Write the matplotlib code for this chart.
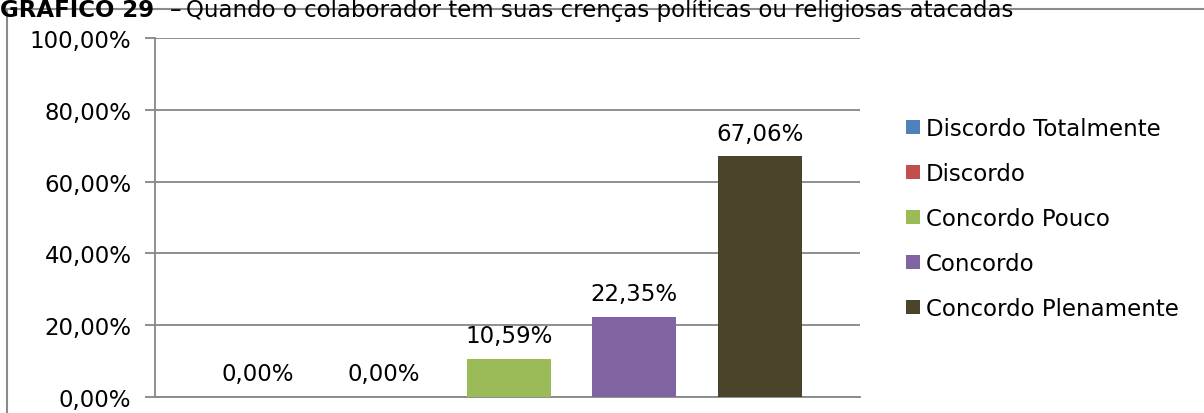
import matplotlib
matplotlib.use("Agg")
import matplotlib.pyplot as plt
from matplotlib.patches import Patch
from matplotlib.lines import Line2D

plt.rcParams['font.family'] = ['DejaVu Sans']

### dados
categorias = ["Discordo Totalmente", "Discordo", "Concordo Pouco", "Concordo", "Concordo Plenamente"]
valores = [0.00, 0.00, 10.59, 22.35, 67.06]
cores = ["#4F81BD", "#C0504D", "#9BBB59", "#8064A2", "#4A452A"]
ticks_y = [0, 20, 40, 60, 80, 100]

FS = 16.5
W, H = 1204, 414
fig = plt.figure(figsize=(W / 100, H / 100), dpi=100)

# moldura do gráfico (só borda superior e esquerda aparecem)
fig.add_artist(Line2D([7 / W, 1.01], [1 - 10 / H, 1 - 10 / H], color="#8C8C8C", lw=1.5))
fig.add_artist(Line2D([7 / W, 7 / W], [-0.01, 1 - 10 / H], color="#8C8C8C", lw=1.5))

# título
fig.text(0, 1 - 17 / H, "GRÁFICO 29", fontsize=FS, fontweight="bold", va="baseline", ha="left")
fig.text(170 / W, 1 - 17 / H, "–", fontsize=FS, va="baseline", ha="left")
fig.text(186 / W, 1 - 17 / H, "Quando o colaborador tem suas crenças políticas ou religiosas atacadas",
         fontsize=FS, va="baseline", ha="left")

ax = fig.add_axes([155 / W, 16 / H, (860 - 155) / W, (398 - 39) / H])

pos = list(range(len(valores)))
ax.bar(pos, valores, width=0.67, color=cores, zorder=3)

for p, v in zip(pos, valores):
    ax.annotate(f"{v:.2f}%".replace(".", ","), (p, v), xytext=(0, 12), textcoords="offset points",
                ha="center", va="baseline", fontsize=FS)

ax.set_xlim(-0.82, 4.8)
ax.set_ylim(0, 100)
ax.set_yticks(ticks_y)
ax.set_yticklabels([f"{t:.2f}%".replace(".", ",") for t in ticks_y], fontsize=FS)
ax.set_xticks([])
ax.yaxis.grid(True, color="#868686", lw=1.3, zorder=0)
ax.tick_params(axis="y", length=7, width=1.3, color="#868686", pad=10)
for s in ["top", "right"]:
    ax.spines[s].set_visible(False)
for s in ["left", "bottom"]:
    ax.spines[s].set_color("#868686")
    ax.spines[s].set_linewidth(1.3)

handles = [Patch(facecolor=c, edgecolor="none") for c in cores]
fig.legend(handles, categorias, loc="upper left", bbox_to_anchor=(906 / W, 1 - 118 / H),
           frameon=False, fontsize=FS, handlelength=0.61, handleheight=0.61,
           handletextpad=0.26, labelspacing=0.96, borderpad=0, borderaxespad=0)

fig.savefig("out.png", dpi=100)
